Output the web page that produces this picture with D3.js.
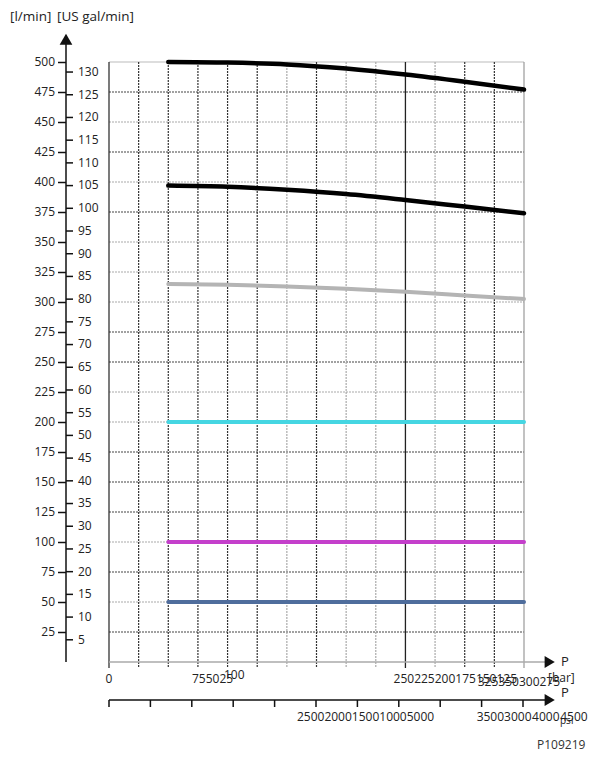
<!DOCTYPE html>
<html>
<head>
<meta charset="utf-8">
<script src="https://cdn.jsdelivr.net/npm/d3@7"></script>
<style>
  body { margin: 0; background: #fff; }
  svg text { font-family: "Open Sans", sans-serif; fill: #222; }
</style>
</head>
<body>
<div id="chart"></div>
<script>
// pressure points (bar) where the flow curves were read
var pressureBar = [50, 100, 150, 200, 250, 300, 350];

// flow [l/min] for each curve
var flowTop = [500, 499.5, 498, 494.5, 489.5, 483.5, 477];
var flowMid = [397, 396, 393.5, 390, 385, 379.5, 374];
var flowGray = [315, 314.3, 313, 311, 308.5, 305.5, 302.5];
var flowCyan = [200, 200, 200, 200, 200, 200, 200];
var flowMagenta = [100, 100, 100, 100, 100, 100, 100];
var flowBlue = [50, 50, 50, 50, 50, 50, 50];

// axis ticks
var lminTicks = [25, 50, 75, 100, 125, 150, 175, 200, 225, 250, 275, 300, 325, 350, 375, 400, 425, 450, 475, 500];
var galTicks = [5, 10, 15, 20, 25, 30, 35, 40, 45, 50, 55, 60, 65, 70, 75, 80, 85, 90, 95, 100, 105, 110, 115, 120, 125, 130];
var barGrid = [25, 50, 75, 100, 125, 150, 175, 200, 225, 250, 275, 300, 325, 350];
var psiTicks = [0, 500, 1000, 1500, 2000, 2500, 3000, 3500, 4000, 4500, 5000];

// tick label groups as they are printed (they run into each other)
var barLabelGroups = [
    { at: 0, dy: 0, labels: ["0"] },
    { at: 70, dy: 0, labels: ["75", "50", "25"] },
    { at: 97, dy: -4, labels: ["100"] },
    { at: 240, dy: 0, labels: ["250", "225", "200", "175", "150", "125"] },
    { at: 311, dy: 3, labels: ["325", "350", "300", "275"] }
];
var psiLabelGroups = [
    { at: 2270, dy: 0, labels: ["2500", "2000", "1500", "1000", "500", "0"] },
    { at: 4440, dy: 0, labels: ["3500", "3000"] },
    { at: 5110, dy: 0, labels: ["4000"] },
    { at: 5450, dy: 0, labels: ["4500"] }
];

// grid styling: which lines are printed dark
var darkBar = [25, 50, 75, 100, 125, 175, 300, 325];
var darkFlow = [25, 75, 125, 150, 175, 250, 275, 375, 425, 475];

var W = 595, H = 759;
var svg = d3.select("#chart").append("svg").attr("width", W).attr("height", H);

var x = d3.scaleLinear().domain([0, 350]).range([109, 524]);
var xPsi = d3.scaleLinear().domain([0, 5000]).range([109, 523]);
var y = d3.scaleLinear().domain([0, 500]).range([662, 62]);
var yGal = d3.scaleLinear().domain([0, 500 / 3.785]).range([662, 62]);

function label(px, py, txt, size){
    return svg.append("text").attr("x", px).attr("y", py)
        .style("font-size", (size || 12) + "px").text(txt);
}

// horizontal grid
svg.append("g").selectAll("line").data(lminTicks).enter().append("line")
    .attr("x1", x(0)).attr("x2", x(350))
    .attr("y1", function(d){ return y(d); }).attr("y2", function(d){ return y(d); })
    .attr("stroke", function(d){ return d === 500 ? "#bbb" : (darkFlow.indexOf(d) >= 0 ? "#444" : "#aaa"); })
    .attr("stroke-width", 1.2)
    .attr("stroke-dasharray", function(d){ return d === 500 ? null : "2,1"; });

// vertical grid
svg.append("g").selectAll("line").data(barGrid).enter().append("line")
    .attr("x1", function(d){ return x(d); }).attr("x2", function(d){ return x(d); })
    .attr("y1", y(500)).attr("y2", y(0) + 6)
    .attr("stroke", function(d){
        if (d === 250) return "#222";
        if (d === 350) return "#999";
        return darkBar.indexOf(d) >= 0 ? "#333" : "#aaa";
    })
    .attr("stroke-width", function(d){ return d === 250 ? 1.3 : 1.2; })
    .attr("stroke-dasharray", function(d){ return (d === 250 || d === 350) ? null : "2,1"; });

// plot left border
svg.append("line").attr("x1", x(0)).attr("x2", x(0)).attr("y1", y(500)).attr("y2", y(0) + 6)
    .attr("stroke", "#222").attr("stroke-width", 1.2);

// curves
var line = d3.line()
    .x(function(d){ return x(d[0]); })
    .y(function(d){ return y(d[1]); })
    .curve(d3.curveMonotoneX);

var series = [
    { v: flowBlue, c: "#4f6d9c", w: 4 },
    { v: flowMagenta, c: "#c43fcb", w: 4 },
    { v: flowCyan, c: "#45d6e2", w: 4 },
    { v: flowGray, c: "#b4b4b4", w: 4 },
    { v: flowMid, c: "#000", w: 4.5 },
    { v: flowTop, c: "#000", w: 4.5 }
];
series.forEach(function(s){
    svg.append("path")
        .datum(d3.zip(pressureBar, s.v))
        .attr("d", line)
        .attr("fill", "none")
        .attr("stroke", s.c)
        .attr("stroke-width", s.w)
        .attr("stroke-linecap", "round");
});

// left axis (both units on one line)
var axisX = 66;
svg.append("line").attr("x1", axisX).attr("x2", axisX).attr("y1", 40).attr("y2", y(0))
    .attr("stroke", "#111").attr("stroke-width", 1.5);
svg.append("path").attr("d", d3.symbol(d3.symbolTriangle, 70)())
    .attr("transform", "translate(" + axisX + ",41)").attr("fill", "#111");

var gL = svg.append("g").attr("transform", "translate(" + axisX + ",0)")
    .call(d3.axisLeft(y).tickValues(lminTicks).tickSize(8).tickPadding(3));
var gR = svg.append("g").attr("transform", "translate(" + axisX + ",0)")
    .call(d3.axisRight(yGal).tickValues(galTicks).tickSize(7).tickPadding(5));
[gL, gR].forEach(function(g){
    g.select(".domain").remove();
    g.selectAll(".tick line").attr("stroke", "#111").attr("stroke-width", 1.5);
    g.selectAll(".tick text").style("font-family", "Open Sans").style("font-size", "12px").attr("fill", "#222");
});

label(10, 21, "[l/min]", 13.5);
label(57, 21, "[US gal/min]", 13.5);

// bar axis
var barY = y(0);
svg.append("line").attr("x1", x(0)).attr("x2", 545).attr("y1", barY).attr("y2", barY)
    .attr("stroke", "#aaa").attr("stroke-width", 1.5);
svg.append("path").attr("d", d3.symbol(d3.symbolTriangle, 60)())
    .attr("transform", "translate(548," + barY + ") rotate(90)").attr("fill", "#111");
label(561, barY + 4, "P", 13);
label(548, barY + 20, "[bar]", 12);

barLabelGroups.forEach(function(g){
    label(x(g.at), barY + 21 + g.dy, g.labels.join(""), 12)
        .attr("text-anchor", g.at === 0 ? "middle" : "start");
});

// psi axis
var psiY = 700;
svg.append("line").attr("x1", xPsi(0)).attr("x2", 545).attr("y1", psiY).attr("y2", psiY)
    .attr("stroke", "#111").attr("stroke-width", 1.5);
svg.append("path").attr("d", d3.symbol(d3.symbolTriangle, 60)())
    .attr("transform", "translate(548," + psiY + ") rotate(90)").attr("fill", "#111");
label(561, psiY - 3, "P", 13);
svg.selectAll(".psitick").data(psiTicks).enter().append("line")
    .attr("x1", function(d){ return xPsi(d); }).attr("x2", function(d){ return xPsi(d); })
    .attr("y1", psiY).attr("y2", psiY + 7)
    .attr("stroke", "#111").attr("stroke-width", 1.5);

psiLabelGroups.forEach(function(g){
    label(xPsi(g.at), psiY + 21 + g.dy, g.labels.join(""), 12);
});
label(560, psiY + 24, "psi", 10);

label(537, 749, "P109219", 12).style("fill", "#333");
</script>
</body>
</html>
